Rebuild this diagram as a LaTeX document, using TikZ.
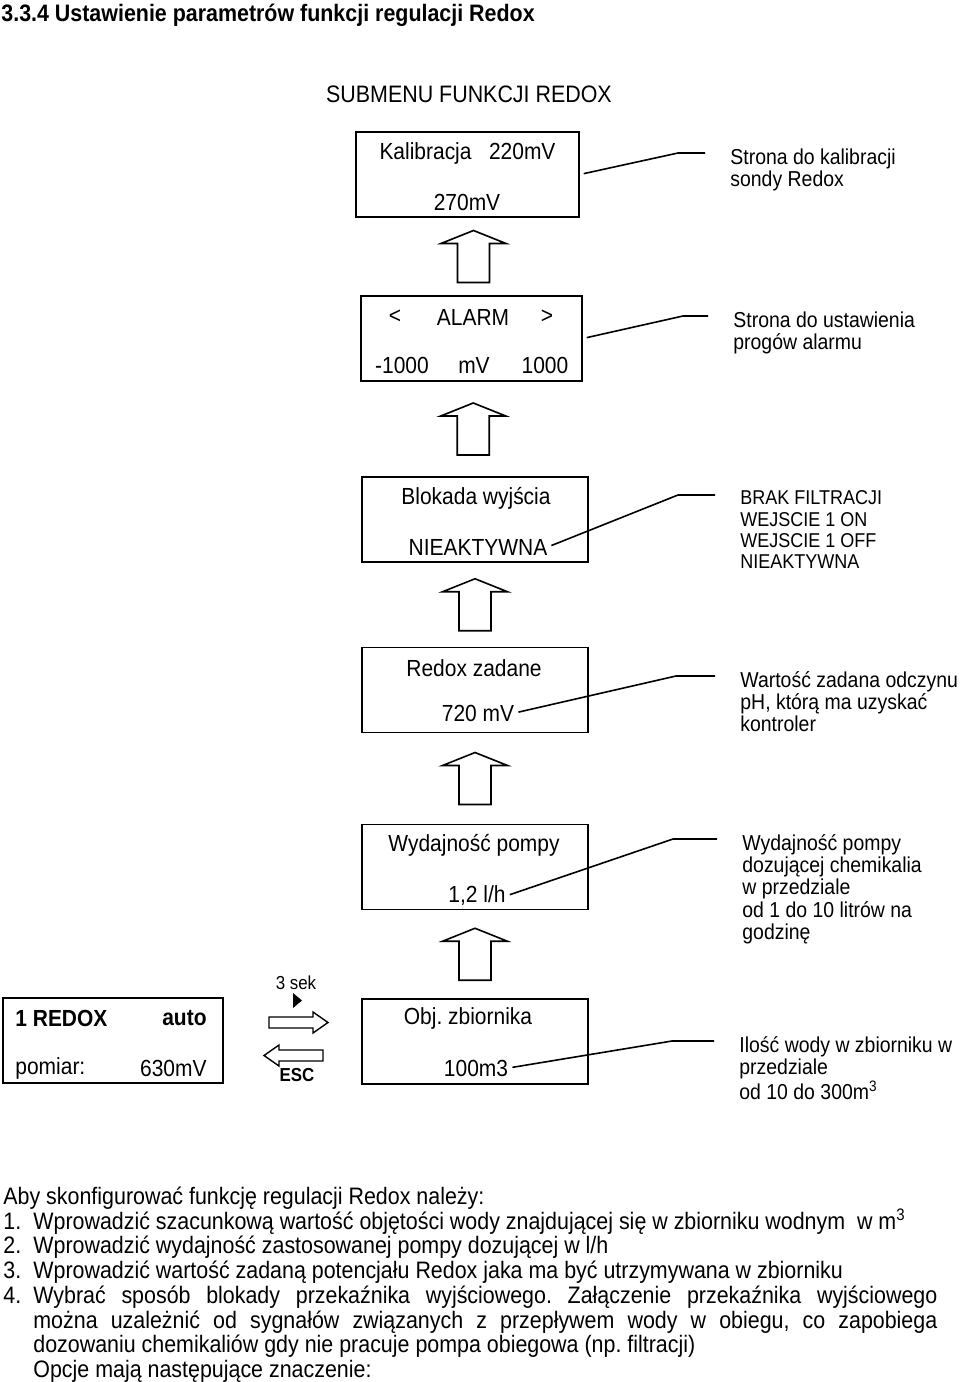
\documentclass[tikz,border=0pt]{standalone}
\usepackage{fontspec}
\setmainfont{Liberation Sans}[FakeStretch=0.9]
\usetikzlibrary{calc}
\frenchspacing
\newcommand{\boxfs}{\fontsize{11.65}{12.6}\selectfont}
\newcommand{\notefs}{\fontsize{10.8}{11.15}\selectfont}
\newcommand{\listfs}{\fontsize{10}{10.65}\selectfont}
\newcommand{\bodyfs}{\fontsize{11.9}{12.35}\selectfont}
\newcommand{\smallfs}{\fontsize{9.4}{10}\selectfont}

\begin{document}
\begin{tikzpicture}[
  x=0.5pt, y=-0.5pt,
  screen/.style={
    rectangle, draw, line width=0.8pt,
    minimum width=113pt, minimum height=42.5pt, inner sep=0pt
  },
  txt/.style={inner sep=0pt, font=\boxfs},
  note/.style={inner sep=0pt, anchor=north west, align=left, font=\notefs},
  leader/.style={line width=0.8pt, shorten <=2pt, shorten >=12.5pt},
  body/.style={inner sep=0pt, anchor=base west, font=\bodyfs},
  uparrow/.pic={
    \draw[line width=0.8pt] (-16,26) -- (-16,-13) -- (-32.5,-13) -- (0,-26)
      -- (32.5,-13) -- (16,-13) -- (16,26) -- cycle;
  },
  sidearrow/.pic={
    \draw[line width=0.7pt] (-29.5,-5.5) -- (14.5,-5.5) -- (14.5,-10.5) -- (29.5,0)
      -- (14.5,10.5) -- (14.5,5.5) -- (-29.5,5.5) -- cycle;
  },
]
\useasboundingbox (0,0) rectangle (960,1382);

% ---- Header ----
\node[body, font=\bodyfs\bfseries] (title) at (1,21.5)
  {3.3.4 Ustawienie parametrów funkcji regulacji Redox};
\node[inner sep=0pt, anchor=base, font=\bodyfs] (submenu) at (469,102.5)
  {SUBMENU FUNKCJI REDOX};

% ---- Menu column ----
\node[screen, minimum width=111.5pt] (kal) at (467.5,174.5) {};
\node[txt] (kal1) at (467.5,153) {Kalibracja~~~220mV};
\node[txt] (kal2) at (467,202) {270mV};

\node[screen, minimum width=110.5pt] (alarm) at (471.5,338.5) {};
\node[txt] (al1) at (395,317) {<};
\node[txt] (al2) at (473,317) {ALARM};
\node[txt] (al3) at (547,317) {>};
\node[txt] (al4) at (402,365) {-1000};
\node[txt] (al5) at (474,365) {mV};
\node[txt] (al6) at (545,365) {1000};

\node[screen] (blok) at (475,519.5) {};
\node[txt] (blok1) at (476,498) {Blokada wyjścia};
\node[txt] (blok2) at (478,547) {NIEAKTYWNA};

\node[screen] (redox) at (475,690) {};
\node[txt] (red1) at (474,668) {Redox zadane};
\node[txt] (red2) at (478,713) {720 mV};

\node[screen] (pump) at (475,867) {};
\node[txt] (pump1) at (474,845) {Wydajność pompy};
\node[txt] (pump2) at (477,896) {1,2 l/h};

\node[screen] (obj) at (475,1041.5) {};
\node[txt] (obj1) at (468,1018) {Obj. zbiornika};
\node[txt] (obj2) at (476,1068) {100m3};

% Arrows (menu)
\pic at ($(kal.south)!0.5!(alarm.north)+(4,0)$) {uparrow};
\pic at ($(alarm.south)!0.5!(blok.north)$) {uparrow};
\pic at ($(blok.south)!0.5!(redox.north)$) {uparrow};
\pic at ($(redox.south)!0.5!(pump.north)$) {uparrow};
\pic at ($(pump.south)!0.5!(obj.north)$) {uparrow};

% ---- Notes (right) ----
\node[note] (kalnote) at (730,148) {Strona do kalibracji\\sondy Redox};
\node[note] (alnote) at (733,311) {Strona do ustawienia\\progów alarmu};
\node[note, font=\listfs] (bloknote) at (740,490.5)
  {BRAK FILTRACJI\\WEJSCIE 1 ON\\WEJSCIE 1 OFF\\NIEAKTYWNA};
\node[note] (rednote) at (740,671)
  {Wartość zadana odczynu\\pH, którą ma uzyskać\\kontroler};
\node[note] (pumpnote) at (742,834)
  {Wydajność pompy\\dozującej chemikalia\\w przedziale\\od 1 do 10 litrów na\\godzinę};
\node[note] (objnote) at (739,1036)
  {Ilość wody w zbiorniku w\\przedziale\\od 10 do 300m\textsuperscript{3}};

% Leader lines
\coordinate (kalB) at (678,153);
\coordinate (alB) at (683,316);
\coordinate (blokB) at (678,495);
\coordinate (redB) at (676,676);
\coordinate (pumpB) at (673,839);
\coordinate (objB) at (672,1041);
\draw[leader] (kal.east) -- (kalB) -- (kalB -| kalnote.west);
\draw[leader] (alarm.east) -- (alB) -- (alB -| alnote.west);
\draw[leader] (blok2.east) -- (blokB) -- (blokB -| bloknote.west);
\draw[leader] (red2.east) -- (redB) -- (redB -| rednote.west);
\draw[leader] (pump2.east) -- (pumpB) -- (pumpB -| pumpnote.west);
\draw[leader] (obj2.east) -- (objB) -- (objB -| objnote.west);

% ---- Main screen (left) ----
\node[screen, minimum width=110pt] (main) at (113,1040.5) {};
\node[txt, font=\boxfs\bfseries, anchor=west] (mode) at (15,1018) {1 REDOX};
\node[txt, font=\boxfs\bfseries, anchor=east] (mauto) at (207,1018) {auto};
\node[txt, anchor=west] (meas) at (15,1068) {pomiar:};
\node[txt, anchor=east] (measval) at (207,1068) {630mV};

% Enter / leave submenu
\coordinate (gap) at ($(main.east)!0.5!(obj.west)$);
\pic at ($(gap)+(6,-18.5)$) {sidearrow};
\pic[rotate=180] at ($(gap)+(1,14.5)$) {sidearrow};
\node[inner sep=0pt, font=\smallfs] (sek) at (296,983) {3 sek};
\coordinate (tri) at (293,993);
\fill (tri) -- ++(9,7.5) -- ++(-9,7.5) -- cycle;
\node[inner sep=0pt, font=\smallfs\bfseries] (esc) at (297,1075) {ESC};

% ---- Instructions ----
\node[body] (intro) at (3,1204.5) {Aby skonfigurować funkcję regulacji Redox należy:};
\node[body] (n1) at (3,1229.2) {1.};
\node[body] (s1) at (33,1229.2)
  {Wprowadzić szacunkową wartość objętości wody znajdującej się w zbiorniku wodnym~~w m\textsuperscript{3}};
\node[body] (n2) at (3,1253.9) {2.};
\node[body] (s2) at (33,1253.9) {Wprowadzić wydajność zastosowanej pompy dozującej w l/h};
\node[body] (n3) at (3,1278.6) {3.};
\node[body] (s3) at (33,1278.6)
  {Wprowadzić wartość zadaną potencjału Redox jaka ma być utrzymywana w zbiorniku};
\node[body] (n4) at (3,1303.3) {4.};
\node[body] (s4a) at (33,1303.3)
  {\makebox[452pt][s]{Wybrać sposób blokady przekaźnika wyjściowego. Załączenie przekaźnika wyjściowego}};
\node[body] (s4b) at (33,1328)
  {\makebox[452pt][s]{można uzależnić od sygnałów związanych z przepływem wody w obiegu, co zapobiega}};
\node[body] (s4c) at (33,1352.7)
  {dozowaniu chemikaliów gdy nie pracuje pompa obiegowa (np. filtracji)};
\node[body] (s4d) at (33,1377.4) {Opcje mają następujące znaczenie:};

\end{tikzpicture}
\end{document}
